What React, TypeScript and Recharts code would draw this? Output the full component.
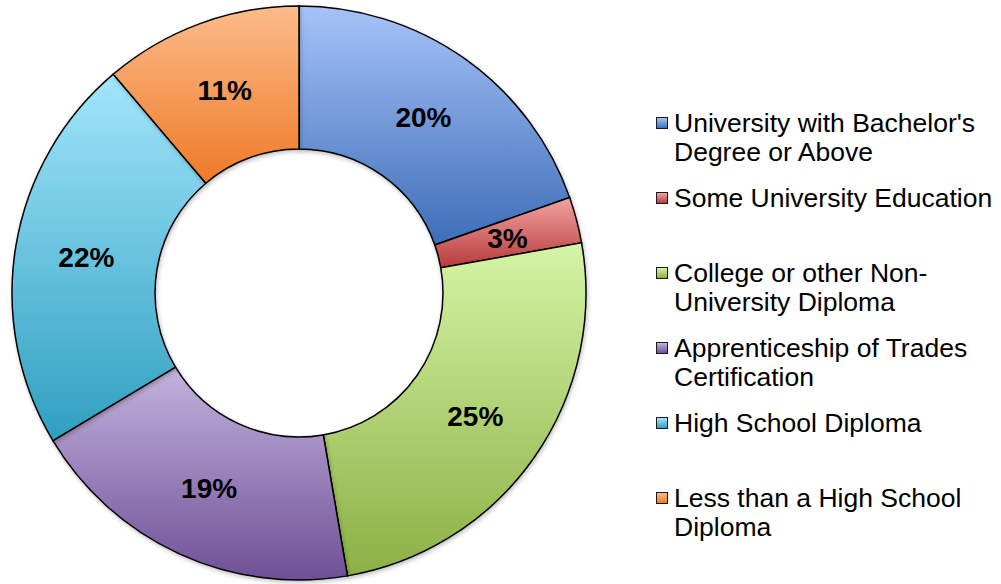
import React from 'react';
import { PieChart, Pie, Cell, Legend } from 'recharts';

const categories = [
  "University with Bachelor's Degree or Above",
  'Some University Education',
  'College or other Non-University Diploma',
  'Apprenticeship of Trades Certification',
  'High School Diploma',
  'Less than a High School Diploma',
];

// legend text split the way the original wraps it
const legendLines = [
  ["University with Bachelor's", 'Degree or Above'],
  ['Some University Education'],
  ['College or other Non-', 'University Diploma'],
  ['Apprenticeship of Trades', 'Certification'],
  ['High School Diploma'],
  ['Less than a High School', 'Diploma'],
];

const shares = [19.6, 2.6, 25.1, 19.1, 22.4, 11.2];

const gradTop = ['#a6c3f8', '#f3a3a3', '#d6f4a6', '#c3b3de', '#a2e6fc', '#fdbb8b'];
const gradBottom = ['#3d6db8', '#b83a3a', '#8bb044', '#6f4f96', '#2f9fbf', '#ee7a26'];

const data = categories.map((name, i) => ({ name, value: shares[i] }));

const RAD = Math.PI / 180;

const renderLabel = (props: any) => {
  const { cx, cy, midAngle, innerRadius, outerRadius, percent } = props;
  const r = (innerRadius + outerRadius) / 2;
  const x = cx + r * Math.cos(-midAngle * RAD);
  const y = cy + r * Math.sin(-midAngle * RAD);
  return (
    <text
      x={x}
      y={y}
      textAnchor="middle"
      dominantBaseline="central"
      fill="#000"
      fontFamily="'Liberation Sans', Arial, sans-serif"
      fontWeight="bold"
      fontSize={28}
    >
      {`${Math.round(percent * 100)}%`}
    </text>
  );
};

const renderLegend = () => (
  <div style={{ fontFamily: "'Liberation Sans', Arial, sans-serif", fontSize: 26.5, color: '#000' }}>
    {legendLines.map((lines, i) => (
      <div key={i} style={{ position: 'relative', height: 75, paddingLeft: 18, lineHeight: '29px' }}>
        <span
          style={{
            position: 'absolute',
            left: 0,
            top: 8,
            width: 10,
            height: 10,
            border: '1.5px solid #1a1a1a',
            background: `linear-gradient(${gradTop[i]}, ${gradBottom[i]})`,
          }}
        />
        {lines.map((l, j) => (
          <div key={j} style={{ whiteSpace: 'nowrap' }}>{l}</div>
        ))}
      </div>
    ))}
  </div>
);

export default function App() {
  return (
    <div style={{ position: 'absolute', left: 0, top: 0, width: 1001, height: 584, background: '#fff' }}>
      <PieChart width={1001} height={584} margin={{ top: 0, right: 0, bottom: 0, left: 0 }}>
        <defs>
          {gradTop.map((c, i) => (
            <linearGradient key={i} id={`g${i}`} x1="0" y1="0" x2="0" y2="1">
              <stop offset="0%" stopColor={c} />
              <stop offset="100%" stopColor={gradBottom[i]} />
            </linearGradient>
          ))}
          <filter id="shadow" x="-10%" y="-10%" width="120%" height="120%">
            <feDropShadow dx="1" dy="2" stdDeviation="2" floodColor="#000" floodOpacity="0.25" />
          </filter>
        </defs>
        <Pie
          data={data}
          dataKey="value"
          nameKey="name"
          cx={299}
          cy={293}
          innerRadius={144}
          outerRadius={287}
          startAngle={90}
          endAngle={-270}
          stroke="#000"
          strokeWidth={1.5}
          label={renderLabel}
          labelLine={false}
          isAnimationActive={false}
          style={{ filter: 'url(#shadow)' }}
        >
          {data.map((d, i) => (
            <Cell key={d.name} fill={`url(#g${i})`} />
          ))}
        </Pie>
        <Legend
          layout="vertical"
          align="right"
          verticalAlign="top"
          content={renderLegend}
          wrapperStyle={{ left: 656, top: 109, width: 345 }}
        />
      </PieChart>
    </div>
  );
}
